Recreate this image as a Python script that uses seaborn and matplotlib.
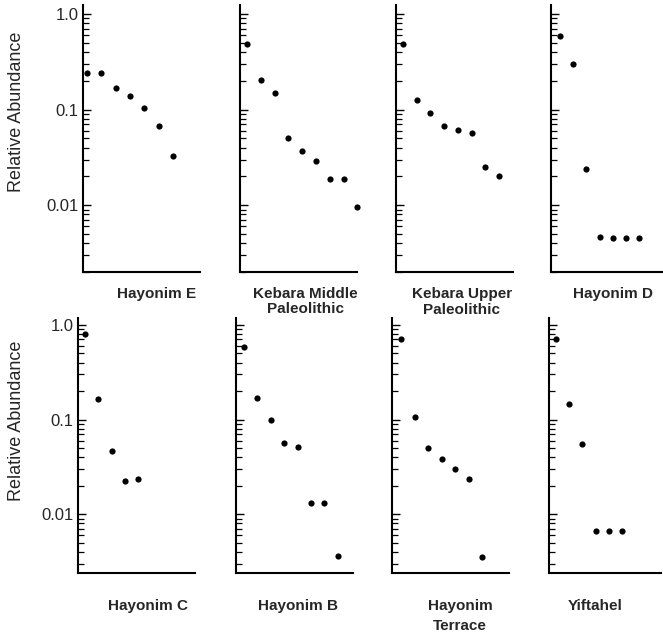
import matplotlib
matplotlib.use("Agg")
import matplotlib.pyplot as plt
import seaborn as sns
import pandas as pd
from matplotlib.ticker import LogLocator, NullFormatter

# Relative abundance of ranked taxa per site
sites = ["Hayonim E", "Kebara Middle\nPaleolithic", "Kebara Upper\nPaleolithic", "Hayonim D",
         "Hayonim C", "Hayonim B", "Hayonim\nTerrace", "Yiftahel"]
hayonim_e = [0.24, 0.24, 0.17, 0.14, 0.105, 0.068, 0.033]
kebara_middle = [0.48, 0.205, 0.15, 0.05, 0.037, 0.029, 0.019, 0.0186, 0.0096]
kebara_upper = [0.49, 0.126, 0.091, 0.067, 0.061, 0.057, 0.025, 0.020]
hayonim_d = [0.59, 0.30, 0.024, 0.0046, 0.0045, 0.0045, 0.0045]
hayonim_c = [0.80, 0.166, 0.046, 0.0226, 0.0233]
hayonim_b = [0.59, 0.169, 0.098, 0.056, 0.051, 0.0131, 0.0131, 0.0036]
hayonim_terrace = [0.71, 0.107, 0.050, 0.038, 0.030, 0.0235, 0.0035]
yiftahel = [0.70, 0.146, 0.055, 0.0067, 0.0067, 0.0067]
series = [hayonim_e, kebara_middle, kebara_upper, hayonim_d,
          hayonim_c, hayonim_b, hayonim_terrace, yiftahel]

major_ticks = [1.0, 0.1, 0.01]
major_labels = ["1.0", "0.1", "0.01"]

sns.set_theme(style="ticks")
plt.rcParams['font.family'] = ['Liberation Sans', 'DejaVu Sans']

W, H = 663, 632
fig = plt.figure(figsize=(W / 100, H / 100), dpi=100)

# layout in pixels: (left, top, width, height, px per rank, first point offset,
#                    label centre x, label top y, line spacing)
layout = [
    (83, 5, 117, 267, 14.3, 4, 157, 287, 1.0),
    (240, 5, 117, 267, 13.8, 7, 305, 287, 1.1),
    (396, 5, 117, 267, 13.7, 7, 462, 287, 1.2),
    (551, 5, 112, 267, 13.2, 9, 613, 287, 1.0),
    (78, 318, 117, 255, 13.3, 7, 148, 599, 1.0),
    (236, 318, 117, 255, 13.4, 8, 298, 599, 1.0),
    (392, 318, 117, 255, 13.5, 9, 460, 599, 1.55),
    (549, 318, 112, 255, 13.2, 7, 595, 599, 1.0),
]
ylims = [(0.002, 1.24), (0.0024, 1.18)]

for i, (name, vals) in enumerate(zip(sites, series)):
    left, top, w, h, step, off, lx, ly, ls = layout[i]
    ax = fig.add_axes([left / W, (H - top - h) / H, w / W, h / H])
    df = pd.DataFrame({"rank": range(1, len(vals) + 1), "abundance": vals})
    sns.scatterplot(data=df, x="rank", y="abundance", ax=ax, color="black",
                    s=20, linewidth=0, clip_on=False, zorder=3)
    ax.set_yscale("log")
    ax.set_ylim(*ylims[i // 4])
    x0 = 1 - off / step
    ax.set_xlim(x0, x0 + w / step)
    ax.set_xticks([])
    ax.set_yticks(major_ticks)
    ax.yaxis.set_minor_locator(LogLocator(base=10, subs=range(2, 10)))
    ax.yaxis.set_minor_formatter(NullFormatter())
    ax.tick_params(axis="y", which="major", direction="in", length=6, width=1,
                   color="black", pad=3, labelsize=12)
    ax.tick_params(axis="y", which="minor", direction="in", length=4, width=0.9,
                   color="black")
    if i % 4 == 0:
        ax.set_yticklabels(major_labels)
    else:
        ax.tick_params(axis="y", labelleft=False)
    ax.set_xlabel("")
    ax.set_ylabel("")
    sns.despine(ax=ax)
    for sp in ["left", "bottom"]:
        ax.spines[sp].set_linewidth(1.5)
        ax.spines[sp].set_color("black")
    fig.text(lx / W, (H - ly) / H, name, ha="center", va="top", multialignment="center",
             fontsize=11, fontweight="bold", linespacing=ls)

for yc in [112, 421]:
    fig.text(17 / W, (H - yc) / H, "Relative Abundance", rotation=90,
             ha="center", va="center", fontsize=13)

fig.savefig("out.png", dpi=100, facecolor="white")
